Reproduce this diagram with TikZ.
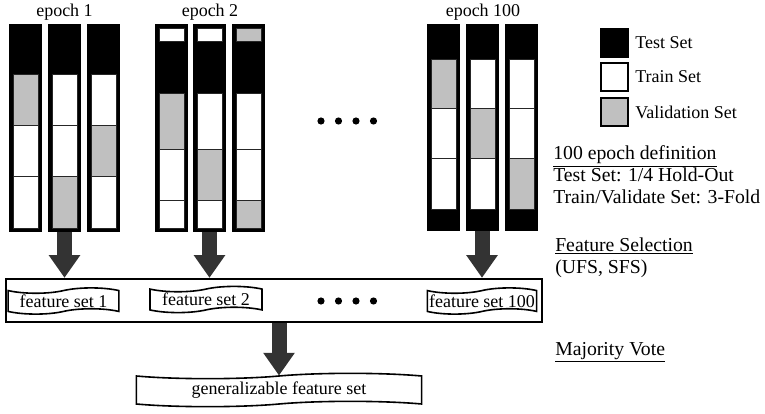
\documentclass[tikz,border=0pt]{standalone}
\usepackage{fontspec}
\setmainfont{Liberation Serif}
\usetikzlibrary{arrows.meta,shapes.symbols}
\definecolor{valgray}{HTML}{C0C0C0}
\definecolor{arrowgray}{HTML}{333333}
% one fold column: left x, bottom y, list of top/bottom/colour segments
\newcommand{\foldcol}[3]{%
  \fill[black] (#1,24) rectangle (#1+33,#2);
  \foreach \tp/\bt/\col in {#3}
    \filldraw[fill=\col, draw=black!85, line width=0.6pt] (#1+4,\tp) rectangle (#1+29,\bt);
}

\begin{document}
\begin{tikzpicture}[x=0.75pt, y=-0.75pt,
    lbl/.style={font=\fontsize{13.5}{16}\selectfont, inner sep=0pt},
    note/.style={font=\fontsize{14.8}{16.5}\selectfont, inner sep=0pt, anchor=west, align=left},
    fset/.style={tape, draw, line width=1.2pt, tape bend height=4pt, font=\fontsize{13.5}{16}\selectfont, inner xsep=1pt, inner ysep=1pt, minimum height=18pt},
    legbox/.style={draw, line width=1.5pt, minimum width=20.5pt, minimum height=21pt, inner sep=0pt},
    blockarrow/.style={draw=arrowgray, line width=11.25pt, -{Triangle[length=17pt,width=22.5pt]}}]
  \useasboundingbox (0,0) rectangle (765,414);

  % epoch 1
  \node[lbl] (ep1) at (64.5,12) {epoch 1};
  \foldcol{9}{232}{74/125/valgray, 125/176/white, 176/228/white}
  \foldcol{48}{232}{74/125/white, 125/176/white, 176/228/valgray}
  \foldcol{87}{232}{74/125/white, 125/176/valgray, 176/228/white}
  \coordinate (e1) at (64.5,232);

  % epoch 2
  \node[lbl] (ep2) at (210,12) {epoch 2};
  \foldcol{155}{232}{28/41/white, 93/149/valgray, 149/200/white, 200/228/white}
  \foldcol{193}{232}{28/41/white, 93/149/white, 149/200/valgray, 200/228/white}
  \foldcol{232}{232}{28/41/valgray, 93/149/white, 149/200/white, 200/228/valgray}
  \coordinate (e2) at (209.5,232);

  % epoch 100
  \node[lbl] (ep100) at (483,12) {epoch 100};
  \foldcol{427}{231}{59/108/valgray, 108/158/white, 158/209/white}
  \foldcol{466}{231}{59/108/white, 108/158/valgray, 158/209/white}
  \foldcol{505}{231}{59/108/white, 108/158/white, 158/209/valgray}
  \coordinate (e100) at (482,231);

  \foreach \dx in {0,...,3}
    \fill (321+17.5*\dx,121) circle (2.7pt);

  % legend
  \node[legbox, fill=black] (ltest) at (614.5,42.5) {};
  \node[legbox, fill=white] (ltrain) at (614.5,77) {};
  \node[legbox, fill=valgray] (lval) at (614.5,112) {};
  \node[lbl, anchor=west] at (635,43) {Test Set};
  \node[lbl, anchor=west] at (635,77) {Train Set};
  \node[lbl, anchor=west] at (635,112) {Validation Set};

  \node[note] (def) at (553,175) {\underline{100 epoch definition}\\Test Set: 1/4 Hold-Out\\Train/Validate Set: 3-Fold};
  \node[note] (fsel) at (555,257.5) {\underline{Feature Selection}\\(UFS, SFS)};
  \node[note] (vote) at (555,352) {\underline{Majority Vote}};

  % feature sets
  \node[draw, line width=1.5pt, minimum width=402pt, minimum height=32.5pt, inner sep=0pt] (fsbox) at (274,300.5) {};
  \node[fset, minimum width=83pt] (fs1) at (63.5,301) {feature set 1};
  \node[fset, minimum width=84pt] (fs2) at (206,299.5) {feature set 2};
  \node[fset, minimum width=82pt] (fs100) at (482,301) {feature set 100};
  \foreach \dx in {0,...,3}
    \fill (321+17.5*\dx,301) circle (2.7pt);

  \node[fset, minimum width=214pt, minimum height=25pt] (gen) at (279,390) {generalizable feature set};

  \draw[blockarrow] (e1) -- (e1 |- fsbox.north);
  \draw[blockarrow] (e2) -- (e2 |- fsbox.north);
  \draw[blockarrow] (e100) -- (e100 |- fsbox.north);
  \draw[blockarrow] (fsbox.south -| gen.north) -- (gen.north);
\end{tikzpicture}
\end{document}
